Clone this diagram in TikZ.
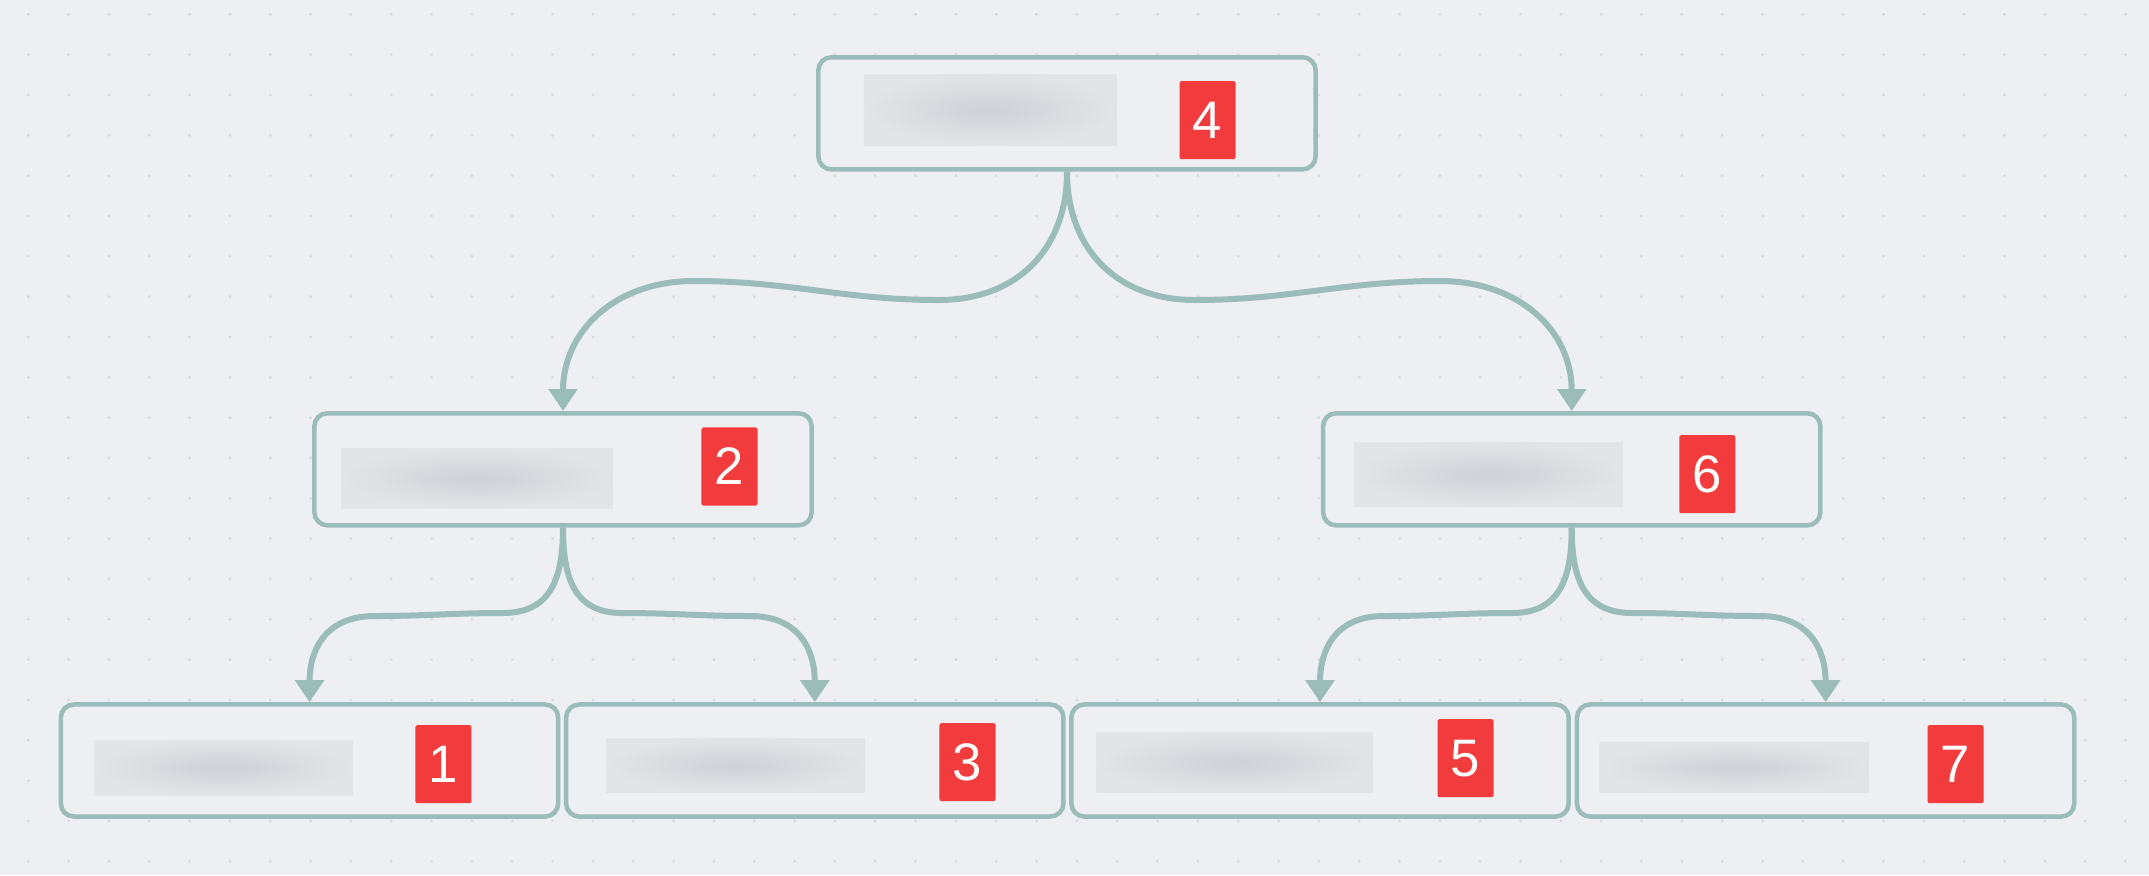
\documentclass[tikz,border=0pt]{standalone}
\usepackage{fontspec}
\usepackage{tikz}
\usetikzlibrary{arrows.meta}
\newfontfamily\badgefont{Liberation Sans}
\definecolor{bgc}{HTML}{EEEFF3}
\definecolor{dotc}{HTML}{D8D9E3}
\definecolor{edgec}{HTML}{9BBDBA}
\definecolor{badgec}{HTML}{F23B3C}
\definecolor{blurc}{HTML}{CFD1D6}
\definecolor{blurbg}{HTML}{E3E4E8}
\tikzset{every picture/.style={x=0.01cm,y=-0.01cm},
box/.style={draw=edgec,line width=0.045cm,rounded corners=0.13cm,fill=bgc,minimum width=4.97cm,minimum height=1.12cm,inner sep=0pt},
badge/.style={fill=badgec,text=white,rounded corners=0.02cm,minimum width=0.56cm,minimum height=0.78cm,inner sep=0pt,font=\badgefont\fontsize{15pt}{17pt}\selectfont},
blur/.style={shade,inner color=blurc,outer color=blurbg,inner sep=0pt},
link/.style={draw=edgec,line width=0.06cm,-{Triangle[width=0.28cm,length=0.22cm]}}}

\begin{document}
\begin{tikzpicture}
\fill[bgc] (0,0) rectangle (2149,875);
\foreach \i in {0,...,52}{
\foreach \j in {0,...,21}{
\fill[dotc] (28.3+40.33*\i,14.3+40.33*\j) circle (0.45pt);
}
}
\node (n4) at (1067,113.3) [box] {};
\node (n2) at (563,469.3) [box] {};
\node (n6) at (1571.7,469.3) [box] {};
\node (n1) at (309.5,760.5) [box] {};
\node (n3) at (814.8,760.5) [box] {};
\node (n5) at (1320,760.5) [box] {};
\node (n7) at (1825.6,760.5) [box] {};
\node (t4) at (990.4,109.7) [blur,minimum width=2.53cm,minimum height=0.71cm] {};
\node (t2) at (477.2,478.2) [blur,minimum width=2.71cm,minimum height=0.60cm] {};
\node (t6) at (1488.5,474.5) [blur,minimum width=2.68cm,minimum height=0.64cm] {};
\node (t1) at (223.4,767.5) [blur,minimum width=2.59cm,minimum height=0.55cm] {};
\node (t3) at (735.6,765.5) [blur,minimum width=2.59cm,minimum height=0.54cm] {};
\node (t5) at (1234.5,762.5) [blur,minimum width=2.76cm,minimum height=0.60cm] {};
\node (t7) at (1734.3,767.5) [blur,minimum width=2.69cm,minimum height=0.50cm] {};
\node (b4) at (1207.5,120.2) [badge] {4};
\node (b2) at (729.5,466.5) [badge] {2};
\node (b6) at (1707.3,474.2) [badge] {6};
\node (b1) at (443.4,764.2) [badge] {1};
\node (b3) at (967.5,762.2) [badge] {3};
\node (b5) at (1465.5,758.2) [badge] {5};
\node (b7) at (1955.5,764.2) [badge] {7};
\coordinate (w2a) at (939,300);
\coordinate (w2b) at (694,281);
\coordinate (w6a) at (1195,300);
\coordinate (w6b) at (1440,281);
\coordinate (w1a) at (503,613);
\coordinate (w1b) at (375,616);
\coordinate (w3a) at (622,613);
\coordinate (w3b) at (750,616);
\coordinate (w5a) at (1512,613);
\coordinate (w5b) at (1384,616);
\coordinate (w7a) at (1632,613);
\coordinate (w7b) at (1760,616);
\draw[link] (n4.south) to[out=-90,in=0,looseness=1.1] (w2a) to[out=180,in=0] (w2b) to[out=180,in=90,looseness=1.1] (n2.north);
\draw[link] (n4.south) to[out=-90,in=180,looseness=1.1] (w6a) to[out=0,in=180] (w6b) to[out=0,in=90,looseness=1.1] (n6.north);
\draw[link] (n2.south) to[out=-90,in=0,looseness=1.2] (w1a) to[out=180,in=0] (w1b) to[out=180,in=90,looseness=1.2] (n1.north);
\draw[link] (n2.south) to[out=-90,in=180,looseness=1.2] (w3a) to[out=0,in=180] (w3b) to[out=0,in=90,looseness=1.2] (n3.north);
\draw[link] (n6.south) to[out=-90,in=0,looseness=1.2] (w5a) to[out=180,in=0] (w5b) to[out=180,in=90,looseness=1.2] (n5.north);
\draw[link] (n6.south) to[out=-90,in=180,looseness=1.2] (w7a) to[out=0,in=180] (w7b) to[out=0,in=90,looseness=1.2] (n7.north);
\end{tikzpicture}
\end{document}
